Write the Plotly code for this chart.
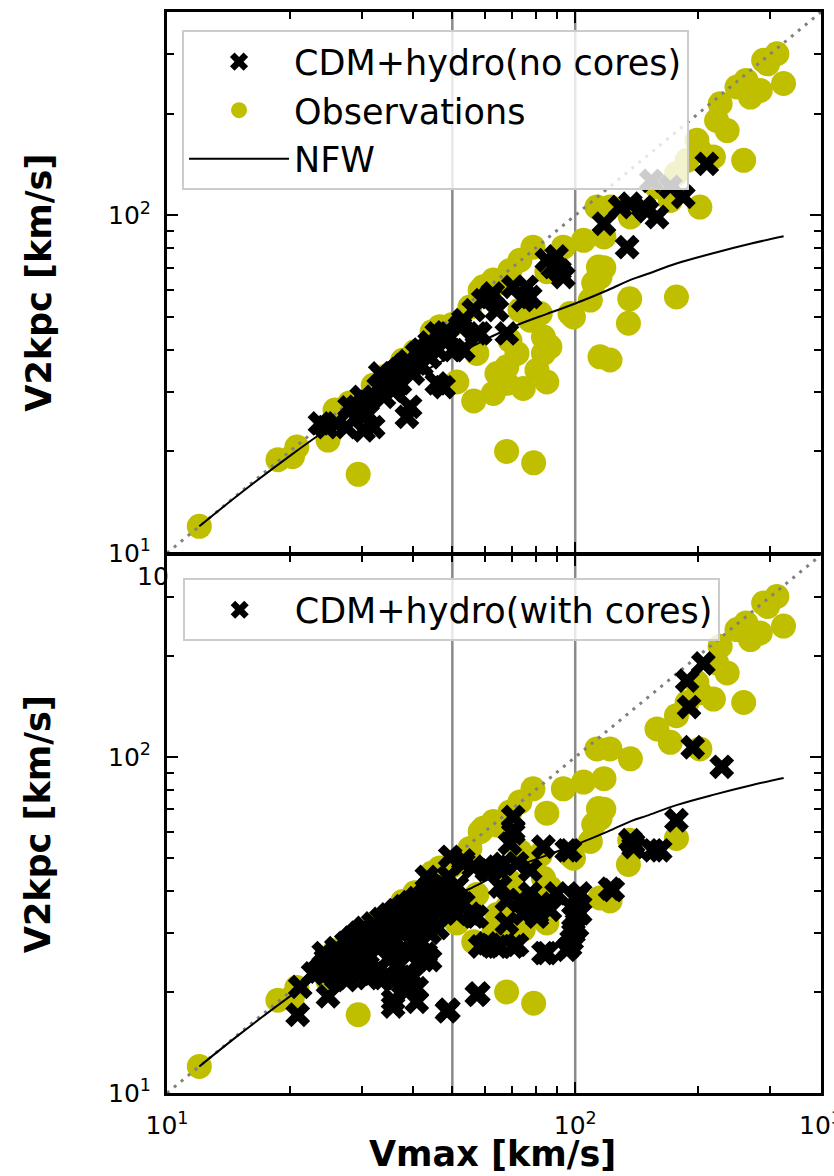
import math
import plotly.graph_objects as go

# ---------------- data ----------------
obs_vmax = [12.0, 18.7, 20.3, 20.8, 24.8, 29.4, 25.8, 28.0, 32.0, 34.5, 37.8, 40.5, 44.6, 46.6, 50.0,
            51.3, 56.4, 57.4, 55.2, 58.5, 59.5, 63.0, 64.3, 69.2, 73.2, 78.8, 93.5, 104.8, 117.6, 63.0,
            74.6, 85.2, 64.3, 68.0, 72.0, 80.6, 68.0, 83.6, 86.7, 83.6, 77.6, 69.2, 73.2, 82.1, 97.1,
            99.0, 108.9, 111.0, 114.0, 117.5, 115.0, 85.2, 135.0, 136.0, 177.0, 115.0, 121.7, 67.9, 79.1,
            113.0, 121.7, 136.5, 171.0, 202.0, 158.6, 177.0, 188.0, 198.6, 202.0, 218.0, 258.6, 235.6,
            222.0, 226.5, 249.0, 268.6, 284.0, 262.0, 289.4, 311.9, 296.0, 323.8]
obs_v2kpc = [12.0, 18.9, 19.3, 20.6, 21.6, 17.1, 26.5, 27.8, 31.4, 33.5, 37.2, 39.5, 45.2, 46.8, 47.5,
             32.1, 28.2, 39.0, 53.5, 60.0, 61.4, 64.3, 62.8, 68.7, 73.6, 80.5, 80.5, 84.3, 86.3, 29.7,
             30.7, 32.1, 34.0, 35.6, 39.0, 34.8, 31.8, 39.0, 40.8, 43.6, 48.9, 42.6, 52.4, 51.2, 51.2,
             50.0, 56.1, 63.0, 70.3, 70.0, 65.7, 68.1, 47.9, 56.6, 57.3, 38.1, 37.3, 20.0, 18.5,
             105.8, 105.8, 98.9, 110.7, 105.8, 121.4, 132.9, 145.5, 166.8, 155.6, 148.9, 145.5, 178.2,
             190.9, 214.0, 239.9, 224.0, 234.3, 250.9, 287.7, 300.9, 281.0, 245.7]

nocore_vmax = [23.7, 24.6, 26.0, 27.5, 29.2, 30.9, 32.0, 33.3, 35.8, 37.2, 38.7, 39.4, 40.9, 43.3, 45.8,
               47.6, 48.5, 45.8, 50.3, 53.2, 56.4, 59.5, 58.5, 62.8, 52.2, 53.2, 57.4, 61.9, 64.3, 68.0,
               70.5, 74.6, 76.0, 77.6, 85.2, 88.2, 91.5, 93.5, 90.0, 117.6, 134.0, 128.8, 136.5, 147.0,
               158.6, 150.0, 171.0, 184.0, 210.0, 153.6,
               28.0, 30.0, 31.0, 33.0, 34.0, 36.0, 38.0, 39.0, 41.0, 42.0, 44.0, 34.0, 36.0, 40.0, 42.0,
               44.0, 46.0, 48.0, 35.0, 37.0, 30.3]
nocore_v2kpc = [24.2, 23.6, 24.2, 23.6, 27.1, 25.9, 23.6, 34.0, 30.3, 31.8, 25.3, 27.1, 36.4, 39.9, 31.8,
                31.0, 42.7, 44.7, 39.9, 48.9, 52.4, 56.1, 44.7, 58.7, 46.8, 39.9, 44.7, 57.3, 52.4, 44.7,
                61.4, 56.1, 61.4, 57.3, 73.6, 70.3, 68.7, 65.7, 75.5, 94.4, 80.5, 105.8, 108.2, 105.8,
                98.9, 103.0, 121.4, 113.5, 142.0, 126.5,
                27.0, 29.0, 28.0, 31.0, 32.0, 34.0, 36.0, 37.0, 39.0, 40.0, 42.0, 29.0, 31.0, 34.0, 36.0,
                38.0, 40.0, 45.0, 33.0, 35.0, 23.1]

core_vmax = [206.0, 188.0, 190.0, 194.0, 228.5, 177.0, 161.5, 136.5, 139.0, 123.6, 97.1, 83.6, 70.5, 70.5,
             69.2, 61.9, 66.7, 72.0, 77.6, 53.2, 56.4, 49.4, 102.8, 99.0, 99.0, 100.0, 101.0, 100.0, 98.0,
             95.3, 83.6, 70.5, 64.3, 60.7, 68.0, 77.6, 82.1, 74.6, 80.6, 86.7, 90.0, 65.5, 68.0, 56.4,
             53.2, 48.9, 57.9, 40.9, 35.8, 61.9, 65.5, 72.0, 85.2, 97.1, 101.0, 102.8, 101.0, 121.7,
             138.6, 155.0, 95.3, 70.5, 73.2, 77.6, 80.6, 64.3, 60.7, 53.2, 51.3, 55.2, 43.3, 44.1, 48.5,
             51.3, 44.1, 40.1, 40.9, 35.8, 38.7,
             21.2, 20.9, 24.8, 22.8, 24.2, 27.5, 29.7, 32.0, 35.8, 37.9, 42.4, 48.5, 57.4, 38.7, 57.4, 58.5,
             23.5, 24.5, 25.5, 26.0, 27.0, 27.5, 28.0, 28.5, 29.0, 29.5, 30.0, 30.5, 31.0, 31.5, 32.0,
             32.5, 33.0, 33.5, 34.0, 34.5, 35.0, 35.5, 36.0, 36.5, 37.0, 37.5, 38.0, 38.5, 39.0, 39.5,
             40.0, 40.5, 41.0, 41.5, 42.0, 43.0, 43.5, 44.0, 45.0, 45.5, 46.0, 47.0, 47.5, 48.0, 49.0,
             30.0, 33.0, 35.0, 37.0, 39.0, 42.0, 44.0, 46.0, 26.0, 28.0, 31.0, 34.0, 38.0, 41.0, 43.0]
core_v2kpc = [190.0, 169.0, 141.0, 107.0, 93.6, 64.9, 52.8, 56.6, 54.0, 40.2, 52.8, 54.1, 66.4, 60.6,
              55.3, 46.1, 48.1, 48.3, 46.1, 49.3, 47.2, 50.5, 39.3, 33.5, 29.9, 38.0, 35.0, 31.0, 28.5,
              26.7, 26.1, 27.3, 27.3, 27.9, 37.5, 39.3, 36.7, 34.2, 33.5, 35.1, 39.3, 41.2, 32.0, 33.5,
              36.7, 17.7, 19.8, 18.7, 18.1, 27.6, 27.3, 27.6, 26.1, 27.3, 31.2, 34.3, 38.4, 40.6,
              55.3, 52.8, 52.8, 59.3, 37.5, 36.7, 34.2, 47.2, 46.1, 48.3, 41.2, 34.2, 44.0, 41.2, 38.4,
              34.2, 24.9, 22.2, 20.5, 21.7, 20.2,
              20.7, 17.1, 19.4, 22.7, 26.1, 21.7, 22.7, 22.7, 18.9, 21.2, 24.9, 17.5, 19.6, 22.7, 33.5, 27.3,
              23.0, 25.0, 24.0, 27.0, 26.0, 28.0, 25.0, 29.0, 27.0, 30.0, 28.0, 31.0, 26.0, 29.0, 32.0,
              30.0, 27.0, 33.0, 31.0, 29.0, 34.0, 32.0, 28.0, 35.0, 33.0, 30.0, 36.0, 34.0, 31.0, 37.0,
              35.0, 32.0, 38.0, 36.0, 33.0, 39.0, 37.0, 34.0, 41.0, 38.0, 35.0, 42.0, 40.0, 36.0, 44.0,
              24.0, 23.5, 25.0, 24.0, 26.0, 28.0, 30.0, 31.0, 22.0, 23.0, 22.0, 22.0, 27.0, 29.0, 26.0]

nfw_vmax = [12.0, 15.0, 20.0, 25.0, 30.0, 35.0, 40.0, 45.0, 50.0, 55.0, 63.0, 72.0, 85.0, 100.0,
            120.0, 137.0, 150.0, 177.0, 220.0, 270.0, 324.0]
nfw_v2kpc = [12.0, 14.9, 19.4, 23.5, 27.0, 30.0, 33.0, 35.8, 38.5, 40.5, 44.0, 47.3, 51.0, 54.8,
             60.0, 64.5, 67.0, 72.0, 77.5, 82.5, 86.7]

one_to_one = [10.0, 400.0]
vlines = [50.0, 100.0]

major_vals = [10, 100]
minor_vals = [20, 30, 40, 50, 60, 70, 80, 90, 200, 300, 400]
y_ticktext = ["10<sup>1</sup>", "10<sup>2</sup>"]
x_tickvals = [10, 100, 399]
x_ticktext = ["10<sup>1</sup>", "10<sup>2</sup>", "10<sup>3</sup>"]

# ---------------- styles ----------------
OLIVE = "#bfbf00"
FONT = "DejaVu Sans"

fig = go.Figure()

panels = [("x", "y", nocore_vmax, nocore_v2kpc, "CDM+hydro(no cores)", "legend", True),
          ("x2", "y2", core_vmax, core_v2kpc, "CDM+hydro(with cores)", "legend2", False)]

for xa, ya, cx, cy, cname, leg, full in panels:
    fig.add_trace(go.Scatter(x=obs_vmax, y=obs_v2kpc, mode="markers", xaxis=xa, yaxis=ya,
                             name="Observations", legend=leg, legendrank=2, showlegend=full,
                             marker=dict(symbol="circle", size=25, color=OLIVE, line=dict(width=0))))
    fig.add_trace(go.Scatter(x=one_to_one, y=one_to_one, mode="lines", xaxis=xa, yaxis=ya,
                             showlegend=False, hoverinfo="skip",
                             line=dict(color="#808080", width=3, dash="3px,6px")))
    fig.add_trace(go.Scatter(x=nfw_vmax, y=nfw_v2kpc, mode="lines", xaxis=xa, yaxis=ya,
                             name="NFW", legend=leg, legendrank=3, showlegend=full,
                             line=dict(color="black", width=2, shape="spline")))
    fig.add_trace(go.Scatter(x=cx, y=cy, mode="markers", xaxis=xa, yaxis=ya,
                             name=cname, legend=leg, legendrank=1, showlegend=True,
                             marker=dict(symbol="x", size=22, color="black", line=dict(width=0))))

# vertical reference lines
for yref in ["y domain", "y2 domain"]:
    xref = "x" if yref.startswith("y ") else "x2"
    for v in vlines:
        fig.add_shape(type="line", xref=xref, yref=yref, x0=v, x1=v, y0=0, y1=1,
                      line=dict(color="#8a8a8a", width=2.5), layer="below")

def log_axis(**kw):
    d = dict(type="log", range=[1, math.log10(400)], tickmode="array", tickvals=major_vals,
             ticks="inside", ticklen=11, tickwidth=2, tickcolor="black",
             showline=True, linecolor="black", linewidth=3, mirror="allticks",
             showgrid=False, zeroline=False,
             minor=dict(tickmode="array", tickvals=minor_vals, ticks="inside", ticklen=7,
                        tickwidth=1.5, tickcolor="black", showgrid=False),
             tickfont=dict(family=FONT, size=25, color="black"), ticklabelstandoff=8)
    d.update(kw)
    return d

TOP = [0.4995, 1.0]
BOT = [0.0, 0.4977]

legend_common = dict(xanchor="left", yanchor="top",
                     bgcolor="rgba(255,255,255,0.8)", bordercolor="#cccccc", borderwidth=2,
                     font=dict(family=FONT, size=35, color="black"), itemwidth=100,
                     tracegroupgap=0)

fig.update_layout(
    width=834, height=1176,
    margin=dict(l=167, r=13, t=12, b=83, autoexpand=False),
    plot_bgcolor="white", paper_bgcolor="white",
    xaxis=log_axis(domain=[0, 1], anchor="y", showticklabels=False),
    yaxis=log_axis(domain=TOP, anchor="x", ticktext=y_ticktext),
    xaxis2=log_axis(domain=[0, 1], anchor="y2", tickvals=x_tickvals, ticktext=x_ticktext,
                    automargin=False, ticklabeloverflow="allow"),
    yaxis2=log_axis(domain=BOT, anchor="x2", ticktext=y_ticktext),
    legend=dict(x=0.023, y=0.983, **legend_common),
    legend2=dict(x=0.024, y=0.476, **legend_common),
    font=dict(family=FONT, color="black"),
)

title_font = dict(family=FONT, size=35, color="black", weight="bold")
fig.add_annotation(text="V2kpc [km/s]", xref="paper", yref="paper", x=-0.197,
                   y=(TOP[0] + TOP[1]) / 2, textangle=-90, showarrow=False,
                   xanchor="center", yanchor="middle", font=title_font)
fig.add_annotation(text="V2kpc [km/s]", xref="paper", yref="paper", x=-0.197,
                   y=(BOT[0] + BOT[1]) / 2, textangle=-90, showarrow=False,
                   xanchor="center", yanchor="middle", font=title_font)
fig.add_annotation(text="Vmax [km/s]", xref="paper", yref="paper", x=0.498, y=-0.056,
                   showarrow=False, xanchor="center", yanchor="middle", font=title_font)
# partially hidden tick label seen at the top-left of the lower panel
fig.add_annotation(text="10", xref="paper", yref="paper", x=0.006, y=0.478,
                   showarrow=False, xanchor="right", yanchor="middle",
                   font=dict(family=FONT, size=25, color="black"))

fig.write_html("out.html")
